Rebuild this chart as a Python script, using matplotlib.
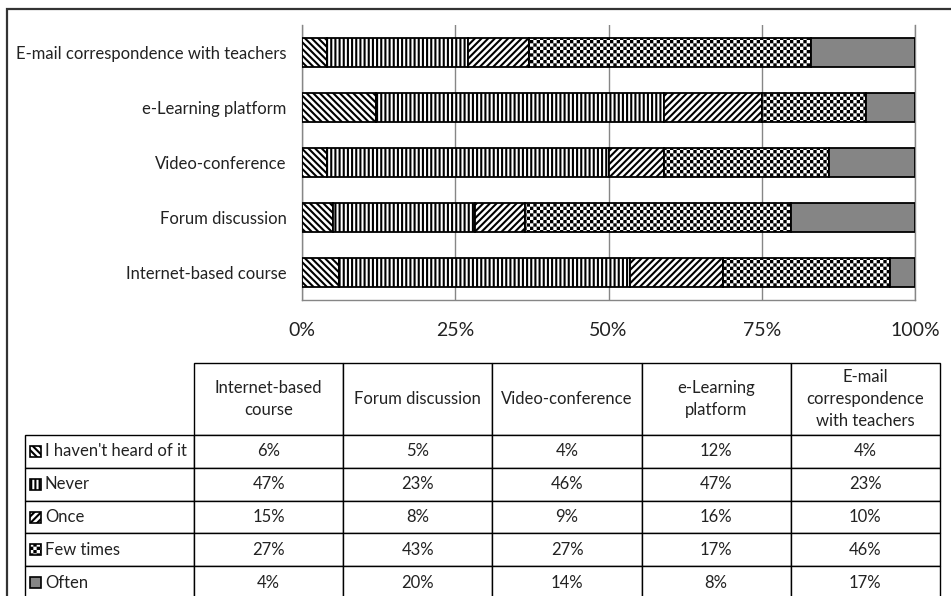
import numpy as np
import matplotlib
matplotlib.use('Agg')
import matplotlib.pyplot as plt
from matplotlib import hatch as mhatch
from matplotlib.path import Path
from matplotlib.patches import Rectangle

plt.rcParams['font.family'] = ['Lato', 'DejaVu Sans']
plt.rcParams['hatch.linewidth'] = 1.5
plt.rcParams['hatch.color'] = 'black'

categories = ['Internet-based course', 'Forum discussion', 'Video-conference',
              'e-Learning platform', 'E-mail correspondence with teachers']
header_labels = ['Internet-based\ncourse', 'Forum discussion', 'Video-conference',
                 'e-Learning\nplatform', 'E-mail\ncorrespondence\nwith teachers']
answers = ["I haven't heard of it", 'Never', 'Once', 'Few times', 'Often']
not_heard = [6, 5, 4, 12, 4]
never = [47, 23, 46, 47, 23]
once = [15, 8, 9, 16, 10]
few_times = [27, 43, 27, 17, 46]
often = [4, 20, 14, 8, 17]
ticks = [0, 25, 50, 75, 100]

DPI = 100
HATCH_LW_PX = plt.rcParams['hatch.linewidth'] * DPI / 72.0


# checkerboard hatch, takes the place of the filled-dots pattern ('.')
class CheckerHatch(mhatch.HatchPatternBase):
    def __init__(self, hatch, density):
        self.n = 2 * ((hatch.count('.') * int(density)) // 2)
        self.num_vertices = (self.n * self.n // 2) * 5 if self.n else 0

    def set_vertices_and_codes(self, vertices, codes):
        step = 1.0 / self.n
        side = max(step - HATCH_LW_PX / DPI, step * 0.2)
        sq = np.array([[0, 0], [side, 0], [side, side], [0, side], [0, 0]])
        sq_codes = [Path.MOVETO, Path.LINETO, Path.LINETO, Path.LINETO, Path.CLOSEPOLY]
        k = 0
        for i in range(self.n):
            for j in range(self.n):
                if (i + j) % 2 == 0:
                    x0 = i * step + (step - side) / 2
                    y0 = j * step + (step - side) / 2
                    vertices[k:k + 5] = sq + [x0, y0]
                    codes[k:k + 5] = sq_codes
                    k += 5


mhatch._hatch_types = [CheckerHatch if t is mhatch.SmallFilledCircles else t
                       for t in mhatch._hatch_types]

values = np.array([not_heard, never, once, few_times, often], dtype=float)
shares = values / values.sum(axis=0) * 100

hatches = ['\\' * 5, '||||', '/' * 5, '.....', None]
faces = ['white', 'white', 'white', 'white', '#858585']

W, H = 951, 596
fig = plt.figure(figsize=(W / DPI, H / DPI), dpi=DPI)

# bar chart
ax = fig.add_axes([302 / W, 1 - 300 / H, 613 / W, 275 / H])
y = np.arange(len(categories))
left = np.zeros(len(categories))
for k in range(len(answers)):
    ax.barh(y, shares[k], left=left, height=0.51, color=faces[k],
            edgecolor='black', linewidth=1.3, hatch=hatches[k], zorder=3)
    left += shares[k]

ax.set_xlim(0, 100)
ax.set_ylim(-0.5, 4.5)
ax.set_xticks(ticks)
ax.set_xticklabels([f'{t}%' for t in ticks])
ax.set_yticks(y)
ax.set_yticklabels(categories)
ax.tick_params(axis='x', length=0, pad=16, labelsize=14, colors='#222222')
ax.tick_params(axis='y', length=0, pad=11, labelsize=12, colors='#222222')
ax.xaxis.grid(True, color='#868686', linewidth=1)
ax.set_axisbelow(True)
ax.spines['top'].set_visible(False)
for s in ['left', 'bottom', 'right']:
    ax.spines[s].set_color('#868686')
    ax.spines[s].set_linewidth(1)

# data table; first column holds the legend keys + answer names
tax = fig.add_axes([0, 0, 1, 1])
tax.set_xlim(0, W)
tax.set_ylim(H, 0)
tax.axis('off')

cell_text = [[''] + [f'{int(v)}%' for v in row] for row in values]
tbl = tax.table(cellText=cell_text, colLabels=[''] + header_labels,
                cellLoc='center', colLoc='center',
                bbox=[25 / W, 1 - 599 / H, 915 / W, 236 / H])
tbl.auto_set_font_size(False)
tbl.set_fontsize(12)
for (r, c), cell in tbl.get_celld().items():
    cell.set_edgecolor('black')
    cell.set_linewidth(1.0)
    cell.set_height((72 if r == 0 else 32.8) / H)
    cell.set_width((169 if c == 0 else 149.2) / W)
    cell.get_text().set_color('#222222')
    if r == 0:
        cell.get_text().set_linespacing(1.45)
tbl[0, 0].visible_edges = 'open'

for i in range(len(answers)):
    yc = 435 + 32.8 * i + 16.4
    tax.add_patch(Rectangle((30, yc - 5.5), 11, 11, facecolor=faces[i],
                            edgecolor='black', linewidth=1.2, hatch=hatches[i]))
    tax.text(45, yc, answers[i], ha='left', va='center', fontsize=12,
             color='#222222')

# outer frame (left and top edges)
tax.plot([7, 7, W], [H, 9, 9], color='#333333', linewidth=1.6,
         solid_joinstyle='miter', clip_on=False)

fig.savefig('out.png', dpi=DPI)
